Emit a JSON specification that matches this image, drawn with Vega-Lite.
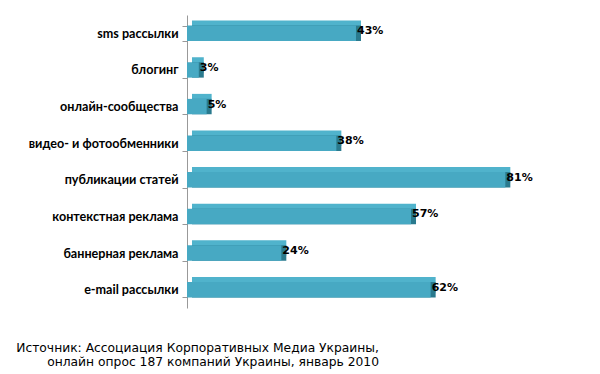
{
  "$schema": "https://vega.github.io/schema/vega-lite/v6.json",
  "autosize": {"type": "none"},
  "width": 393,
  "height": 293,
  "padding": {"left": 187, "top": 15, "right": 20, "bottom": 66},
  "background": "white",
  "title": {
    "text": ["Источник: Ассоциация Корпоративных Медиа Украины,", "онлайн опрос 187 компаний Украины, январь 2010"],
    "orient": "bottom",
    "anchor": "start",
    "frame": "group",
    "align": "right",
    "dx": 192,
    "offset": 34,
    "baseline": "top",
    "font": "DejaVu Sans",
    "fontSize": 12.3,
    "fontWeight": "normal",
    "lineHeight": 13.5,
    "color": "#000"
  },
  "data": {
    "values": [
      {"cat": "sms рассылки", "v": 43},
      {"cat": "блогинг", "v": 3},
      {"cat": "онлайн-сообщества", "v": 5},
      {"cat": "видео- и фотообменники", "v": 38},
      {"cat": "публикации статей", "v": 81},
      {"cat": "контекстная реклама", "v": 57},
      {"cat": "баннерная реклама", "v": 24},
      {"cat": "e-mail рассылки", "v": 62}
    ]
  },
  "encoding": {
    "y": {
      "field": "cat", "type": "nominal", "sort": null, "title": null,
      "scale": {"paddingInner": 0.58, "paddingOuter": 0.29},
      "axis": {
        "tickBand": "extent",
        "domainColor": "#999",
        "tickColor": "#999",
        "tickSize": 5,
        "labelPadding": 4,
        "labelFont": "Lato",
        "labelFontSize": 12.6,
        "labelFontWeight": "bold",
        "labelColor": "#000"
      }
    },
    "x": {
      "field": "v", "type": "quantitative",
      "scale": {"domain": [0, 100]},
      "axis": null
    }
  },
  "layer": [
    {"mark": {"type": "bar", "color": "#50b3cc", "xOffset": 5, "yOffset": -5}},
    {"mark": {"type": "bar", "color": "#2a7a8e", "xOffset": 5, "yOffset": 0}},
    {"mark": {"type": "bar", "color": "#47a9c3"}},
    {
      "mark": {"type": "text", "align": "left", "dx": 1, "dy": -2, "font": "DejaVu Sans", "fontSize": 11, "fontWeight": "bold", "color": "#000", "text": {"expr": "datum.v + '%'"}},
      "encoding": {}
    }
  ],
  "config": {"view": {"stroke": null}}
}
